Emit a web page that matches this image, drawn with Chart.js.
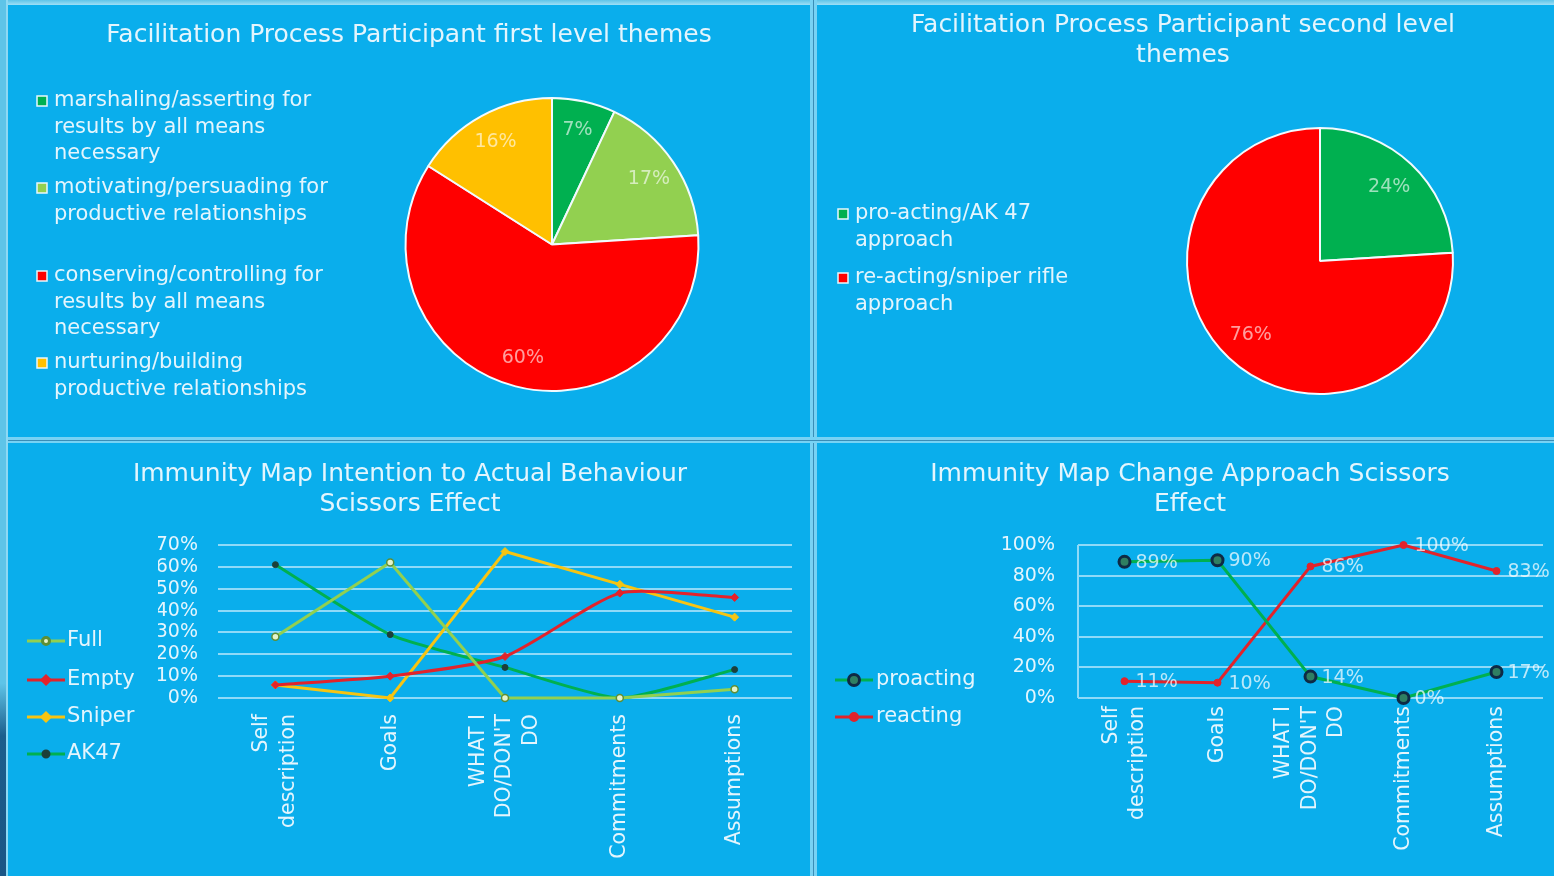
<!DOCTYPE html>
<html>
<head>
<meta charset="utf-8">
<title>Facilitation Process and Immunity Map</title>
<script src="https://cdn.jsdelivr.net/npm/chart.js@4.4.1/dist/chart.umd.min.js"></script>
<style>
  html, body { margin: 0; padding: 0; }
  body { width: 1554px; height: 876px; background: #0AAEEC; position: relative; overflow: hidden; }
  .panel { position: absolute; }
  .panel canvas { display: block; }
  .band { position: absolute; }
  .sep { position: absolute; background: #78D2F4; }
  .sep i { position: absolute; background: #3A8DB6; }
</style>
</head>
<body>
<!-- slide edges and panel separators -->
<div class="band" style="left:0;top:0;width:1554px;height:5px;background:linear-gradient(#5EC4E8,#9EDFF6);"></div>
<div class="band" style="left:0;top:0;width:8px;height:876px;background:linear-gradient(#5EC4E8 0%,#5EC4E8 78%,#1C5E8C 84%,#1A5585 100%);"></div>
<div class="band" style="left:6px;top:0;width:2px;height:876px;background:#8ED9F4;"></div>
<div class="sep" style="left:810px;top:0;width:7px;height:876px;"><i style="left:3px;top:0;width:1px;height:876px;"></i></div>
<div class="sep" style="left:8px;top:437px;width:1546px;height:6px;"><i style="left:0;top:3px;width:1546px;height:1px;"></i></div>

<div class="panel" style="left:8px;top:5px;"><canvas id="firstLevel" width="802" height="432"></canvas></div>
<div class="panel" style="left:817px;top:5px;"><canvas id="secondLevel" width="737" height="432"></canvas></div>
<div class="panel" style="left:8px;top:443px;"><canvas id="intention" width="802" height="433"></canvas></div>
<div class="panel" style="left:817px;top:443px;"><canvas id="approach" width="737" height="433"></canvas></div>

<script>
// ---- data ----
const firstLevelLabels = [
  ["marshaling/asserting for", "results by all means", "necessary"],
  ["motivating/persuading for", "productive relationships"],
  ["conserving/controlling for", "results by all means", "necessary"],
  ["nurturing/building", "productive relationships"]
];
const firstLevelShares = [7, 17, 60, 16];

const secondLevelLabels = [
  ["pro-acting/AK 47", "approach"],
  ["re-acting/sniper rifle", "approach"]
];
const secondLevelShares = [24, 76];

const stages = [["Self", "description"], "Goals", ["WHAT I", "DO/DON'T", "DO"], "Commitments", "Assumptions"];

const fullValues   = [28, 62, 0, 0, 4];
const emptyValues  = [6, 10, 19, 48, 46];
const sniperValues = [6, 0, 67, 52, 37];
const ak47Values   = [61, 29, 14, 0, 13];

const proactingValues = [89, 90, 14, 0, 17];
const reactingValues  = [11, 10, 86, 100, 83];

const intentionTicks = [0, 10, 20, 30, 40, 50, 60, 70];
const approachTicks  = [0, 20, 40, 60, 80, 100];

// ---- look ----
const FONT = "'DejaVu Sans', Verdana, sans-serif";
const TEXT = "#E4F5FD";
const GRID = "#8FDAF8";
const C_DARKGREEN = "#00B050";
const C_LIGHTGREEN = "#92D050";
const C_RED = "#FF0000";
const C_LINERED = "#E2232B";
const C_YELLOW = "#FFC000";

Chart.defaults.font.family = FONT;
Chart.defaults.color = TEXT;

// Panel heading, centred across the canvas.
const panelTitle = {
  id: 'panelTitle',
  afterDraw(chart, args, opts) {
    if (!opts || !opts.text) return;
    const ctx = chart.ctx;
    ctx.save();
    ctx.font = opts.size + 'px ' + FONT;
    ctx.fillStyle = TEXT;
    ctx.textAlign = 'center';
    ctx.textBaseline = 'middle';
    const cx = opts.x != null ? opts.x : chart.width / 2;
    opts.text.forEach((ln, k) => ctx.fillText(ln, cx, opts.y + k * opts.lineHeight));
    ctx.restore();
  }
};

// Legend drawn beside the plot: wrapped labels with a colour box, or a line sample with its marker.
const sideLegend = {
  id: 'sideLegend',
  afterDraw(chart, args, opts) {
    if (!opts || !opts.items) return;
    const ctx = chart.ctx;
    ctx.save();
    ctx.font = opts.size + 'px ' + FONT;
    ctx.textBaseline = 'middle';
    ctx.textAlign = 'left';
    opts.items.forEach((item, i) => {
      const top = opts.tops[i];
      if (opts.kind === 'box') {
        const colors = chart.data.datasets[0].backgroundColor;
        ctx.fillStyle = colors[i];
        ctx.strokeStyle = '#E8F7FD';
        ctx.lineWidth = 1.5;
        ctx.fillRect(opts.x, top - 5, 10, 10);
        ctx.strokeRect(opts.x, top - 5, 10, 10);
      } else {
        const ds = chart.data.datasets[i];
        ctx.strokeStyle = ds.borderColor;
        ctx.lineWidth = ds.borderWidth;
        ctx.beginPath();
        ctx.moveTo(opts.x, top);
        ctx.lineTo(opts.x + opts.sample, top);
        ctx.stroke();
        ctx.fillStyle = ds.pointBackgroundColor;
        ctx.strokeStyle = ds.pointBorderColor;
        Chart.helpers.drawPoint(ctx, {
          pointStyle: ds.pointStyle, radius: ds.pointRadius, rotation: 0,
          borderWidth: ds.pointBorderWidth
        }, opts.x + opts.sample / 2, top);
      }
      ctx.fillStyle = TEXT;
      const lines = Array.isArray(item) ? item : [item];
      lines.forEach((ln, k) => ctx.fillText(ln, opts.textX, top + k * opts.lineHeight));
    });
    ctx.restore();
  }
};

// Percentage labels placed inside each pie slice.
const sliceLabels = {
  id: 'sliceLabels',
  afterDatasetsDraw(chart, args, opts) {
    if (!opts || !opts.display) return;
    const ctx = chart.ctx;
    const meta = chart.getDatasetMeta(0);
    const values = chart.data.datasets[0].data;
    ctx.save();
    ctx.font = opts.size + 'px ' + FONT;
    ctx.textAlign = 'center';
    ctx.textBaseline = 'middle';
    ctx.fillStyle = 'rgba(255,255,255,0.62)';
    meta.data.forEach((arc, i) => {
      const p = arc.getProps(['x', 'y', 'startAngle', 'endAngle', 'outerRadius'], true);
      const mid = (p.startAngle + p.endAngle) / 2;
      const r = p.outerRadius * opts.factor;
      ctx.fillText(values[i] + '%', p.x + Math.cos(mid) * r, p.y + Math.sin(mid) * r);
    });
    ctx.restore();
  }
};

// Value labels to the right of each point.
const pointLabels = {
  id: 'pointLabels',
  afterDatasetsDraw(chart, args, opts) {
    if (!opts || !opts.display) return;
    const ctx = chart.ctx;
    ctx.save();
    ctx.font = opts.size + 'px ' + FONT;
    ctx.textAlign = 'left';
    ctx.textBaseline = 'middle';
    ctx.fillStyle = 'rgba(255,255,255,0.72)';
    chart.data.datasets.forEach((ds, di) => {
      chart.getDatasetMeta(di).data.forEach((pt, i) => {
        ctx.fillText(ds.data[i] + '%', pt.x + opts.offset, pt.y + 1);
      });
    });
    ctx.restore();
  }
};

// Centre multi-line rotated category labels on their tick.
const centerStackedTicks = {
  id: 'centerStackedTicks',
  beforeDraw(chart) {
    const scale = chart.scales.x;
    if (!scale || chart.config.type !== 'line') return;
    const items = scale.getLabelItems(chart.chartArea);
    items.forEach(item => {
      const n = Array.isArray(item.label) ? item.label.length : 1;
      if (n > 1 && !item.centred) {
        item.options.translation[0] -= (n - 1) / 2 * item.font.lineHeight;
        item.centred = true;
      }
    });
  }
};

Chart.register(panelTitle, sideLegend, sliceLabels, pointLabels, centerStackedTicks);

const TITLE_SIZE = 25;
const LEGEND_SIZE = 21;
const TICK_SIZE = 19;

// ---- first level themes pie ----
new Chart(document.getElementById('firstLevel'), {
  type: 'pie',
  data: {
    labels: firstLevelLabels,
    datasets: [{
      data: firstLevelShares,
      backgroundColor: [C_DARKGREEN, C_LIGHTGREEN, C_RED, C_YELLOW],
      borderColor: '#F2FAFE',
      borderWidth: 2
    }]
  },
  options: {
    responsive: false,
    animation: false,
    layout: { padding: { left: 396, right: 110, top: 92, bottom: 45 } },
    plugins: {
      legend: { display: false },
      tooltip: { enabled: false },
      title: { display: false },
      panelTitle: { text: ['Facilitation Process Participant first level themes'], y: 30, lineHeight: 30, size: TITLE_SIZE },
      sideLegend: {
        kind: 'box', items: firstLevelLabels, x: 29, textX: 46, size: LEGEND_SIZE, lineHeight: 26.5,
        tops: [96, 183, 271, 358]
      },
      sliceLabels: { display: true, size: TICK_SIZE, factor: 0.8 }
    }
  }
});

// ---- second level themes pie ----
new Chart(document.getElementById('secondLevel'), {
  type: 'pie',
  data: {
    labels: secondLevelLabels,
    datasets: [{
      data: secondLevelShares,
      backgroundColor: [C_DARKGREEN, C_RED],
      borderColor: '#F2FAFE',
      borderWidth: 2
    }]
  },
  options: {
    responsive: false,
    animation: false,
    layout: { padding: { left: 369, right: 100, top: 122, bottom: 42 } },
    plugins: {
      legend: { display: false },
      tooltip: { enabled: false },
      title: { display: false },
      panelTitle: { text: ['Facilitation Process Participant second level', 'themes'], x: 366, y: 20, lineHeight: 30, size: TITLE_SIZE },
      sideLegend: {
        kind: 'box', items: secondLevelLabels, x: 21, textX: 38, size: LEGEND_SIZE, lineHeight: 26.5,
        tops: [209, 273]
      },
      sliceLabels: { display: true, size: TICK_SIZE, factor: 0.76 }
    }
  }
});

// ---- intention to actual behaviour lines ----
const lineBase = { borderWidth: 3, fill: false, clip: false };
const xTicks = { color: TEXT, font: { size: 20.5, lineHeight: 1.3 }, minRotation: 90, maxRotation: 90, padding: 8, autoSkip: false };

new Chart(document.getElementById('intention'), {
  type: 'line',
  data: {
    labels: stages,
    datasets: [
      Object.assign({}, lineBase, {
        label: 'Full', data: fullValues, borderColor: C_LIGHTGREEN, tension: 0,
        pointStyle: 'circle', pointRadius: 3.5, pointBorderWidth: 1.5,
        pointBackgroundColor: '#E4F4CC', pointBorderColor: '#5E8F34'
      }),
      Object.assign({}, lineBase, {
        label: 'Empty', data: emptyValues, borderColor: C_LINERED, tension: 0.2,
        pointStyle: 'rectRot', pointRadius: 4, pointBorderWidth: 1,
        pointBackgroundColor: C_LINERED, pointBorderColor: C_LINERED
      }),
      Object.assign({}, lineBase, {
        label: 'Sniper', data: sniperValues, borderColor: '#F7C412', tension: 0,
        pointStyle: 'rectRot', pointRadius: 4, pointBorderWidth: 1,
        pointBackgroundColor: '#F7C412', pointBorderColor: '#F7C412'
      }),
      Object.assign({}, lineBase, {
        label: 'AK47', data: ak47Values, borderColor: C_DARKGREEN, tension: 0.2,
        pointStyle: 'circle', pointRadius: 3, pointBorderWidth: 1,
        pointBackgroundColor: '#1C3F3A', pointBorderColor: '#1C3F3A'
      })
    ]
  },
  options: {
    responsive: false,
    animation: false,
    layout: { padding: { left: 150, right: 18, top: 102, bottom: 0 } },
    scales: {
      x: {
        offset: true,
        grid: { display: false },
        border: { display: false },
        ticks: xTicks,
        afterFit(scale) { scale.height = 178; }
      },
      y: {
        min: 0, max: 70,
        afterBuildTicks(scale) { scale.ticks = intentionTicks.map(v => ({ value: v })); },
        grid: { color: GRID, lineWidth: 2, drawTicks: false },
        border: { display: false },
        ticks: { color: TEXT, font: { size: TICK_SIZE }, padding: 20, autoSkip: false, callback: v => v + '%' },
        afterFit(scale) { scale.width = 60; }
      }
    },
    plugins: {
      legend: { display: false },
      tooltip: { enabled: false },
      title: { display: false },
      panelTitle: { text: ['Immunity Map Intention to Actual Behaviour', 'Scissors Effect'], x: 402, y: 31, lineHeight: 30, size: TITLE_SIZE },
      sideLegend: {
        kind: 'line', items: ['Full', 'Empty', 'Sniper', 'AK47'], x: 19, sample: 38, textX: 59,
        size: LEGEND_SIZE, lineHeight: 24, tops: [198, 237, 274, 311]
      }
    }
  }
});

// ---- change approach lines ----
new Chart(document.getElementById('approach'), {
  type: 'line',
  data: {
    labels: stages,
    datasets: [
      Object.assign({}, lineBase, {
        label: 'proacting', data: proactingValues, borderColor: C_DARKGREEN, tension: 0,
        pointStyle: 'circle', pointRadius: 5.5, pointBorderWidth: 3,
        pointBackgroundColor: '#2F7F62', pointBorderColor: '#0E2A45'
      }),
      Object.assign({}, lineBase, {
        label: 'reacting', data: reactingValues, borderColor: C_LINERED, tension: 0,
        pointStyle: 'circle', pointRadius: 3.5, pointBorderWidth: 1,
        pointBackgroundColor: C_LINERED, pointBorderColor: C_LINERED
      })
    ]
  },
  options: {
    responsive: false,
    animation: false,
    layout: { padding: { left: 181, right: 11, top: 102, bottom: 0 } },
    scales: {
      x: {
        offset: true,
        grid: {
          offset: true, drawTicks: false, lineWidth: 2,
          color: ctx => (ctx.index === 0 || ctx.index === stages.length) ? GRID : 'rgba(0,0,0,0)'
        },
        border: { display: false },
        ticks: xTicks,
        afterFit(scale) { scale.height = 178; }
      },
      y: {
        min: 0, max: 100,
        afterBuildTicks(scale) { scale.ticks = approachTicks.map(v => ({ value: v })); },
        grid: { color: GRID, lineWidth: 2, drawTicks: false },
        border: { display: false },
        ticks: { color: TEXT, font: { size: TICK_SIZE }, padding: 23, autoSkip: false, callback: v => v + '%' },
        afterFit(scale) { scale.width = 80; }
      }
    },
    plugins: {
      legend: { display: false },
      tooltip: { enabled: false },
      title: { display: false },
      panelTitle: { text: ['Immunity Map Change Approach Scissors', 'Effect'], x: 373, y: 31, lineHeight: 30, size: TITLE_SIZE },
      sideLegend: {
        kind: 'line', items: ['proacting', 'reacting'], x: 18, sample: 38, textX: 59,
        size: LEGEND_SIZE, lineHeight: 24, tops: [237, 274]
      },
      pointLabels: { display: true, size: TICK_SIZE, offset: 11 }
    }
  }
});
</script>
</body>
</html>
